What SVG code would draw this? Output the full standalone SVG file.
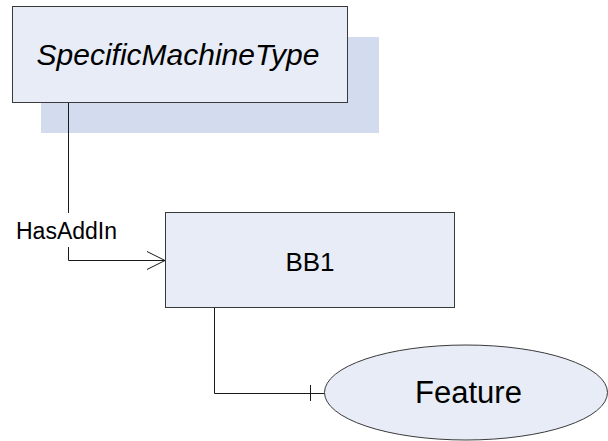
<svg xmlns="http://www.w3.org/2000/svg" width="608" height="441" viewBox="0 0 608 441">
  <style>
    .box { fill: #e7ecf6; stroke: #3a3a3a; stroke-width: 1; }
    .shadow { fill: #d2dcee; stroke: none; }
    .conn { fill: none; stroke: #1a1a1a; stroke-width: 1; }
    .lbl { font-family: "Liberation Sans", Arial, sans-serif; fill: #000; text-anchor: middle; }
  </style>
  <rect width="608" height="441" fill="#ffffff"/>

  <g id="SpecificMachineType">
    <rect class="shadow" x="41" y="37" width="338" height="96"/>
    <rect class="box" x="12.5" y="6.5" width="335" height="96"/>
    <text class="lbl" x="178" y="65" font-size="30" font-style="italic">SpecificMachineType</text>
  </g>

  <g id="BB1">
    <rect class="box" x="165.5" y="212.5" width="289" height="95"/>
    <text class="lbl" x="310" y="271" font-size="26">BB1</text>
  </g>

  <g id="Feature">
    <ellipse class="box" cx="466" cy="392.5" rx="141.5" ry="47.5"/>
    <text class="lbl" x="468.5" y="403" font-size="31">Feature</text>
  </g>

  <g id="connectors">
    <!-- HasAddIn reference, broken around its label -->
    <path class="conn" d="M68.5 103 V213 M68.5 247 V260.5 H165"/>
    <path class="conn" d="M147 251.5 L165 260.5 L147 269.5"/>
    <text class="lbl" x="66.5" y="239" font-size="23">HasAddIn</text>
    <!-- BB1 to Feature with tick end -->
    <path class="conn" d="M214.5 308 V393.5 H324.5"/>
    <path class="conn" d="M310.5 385 V401"/>
  </g>
</svg>
